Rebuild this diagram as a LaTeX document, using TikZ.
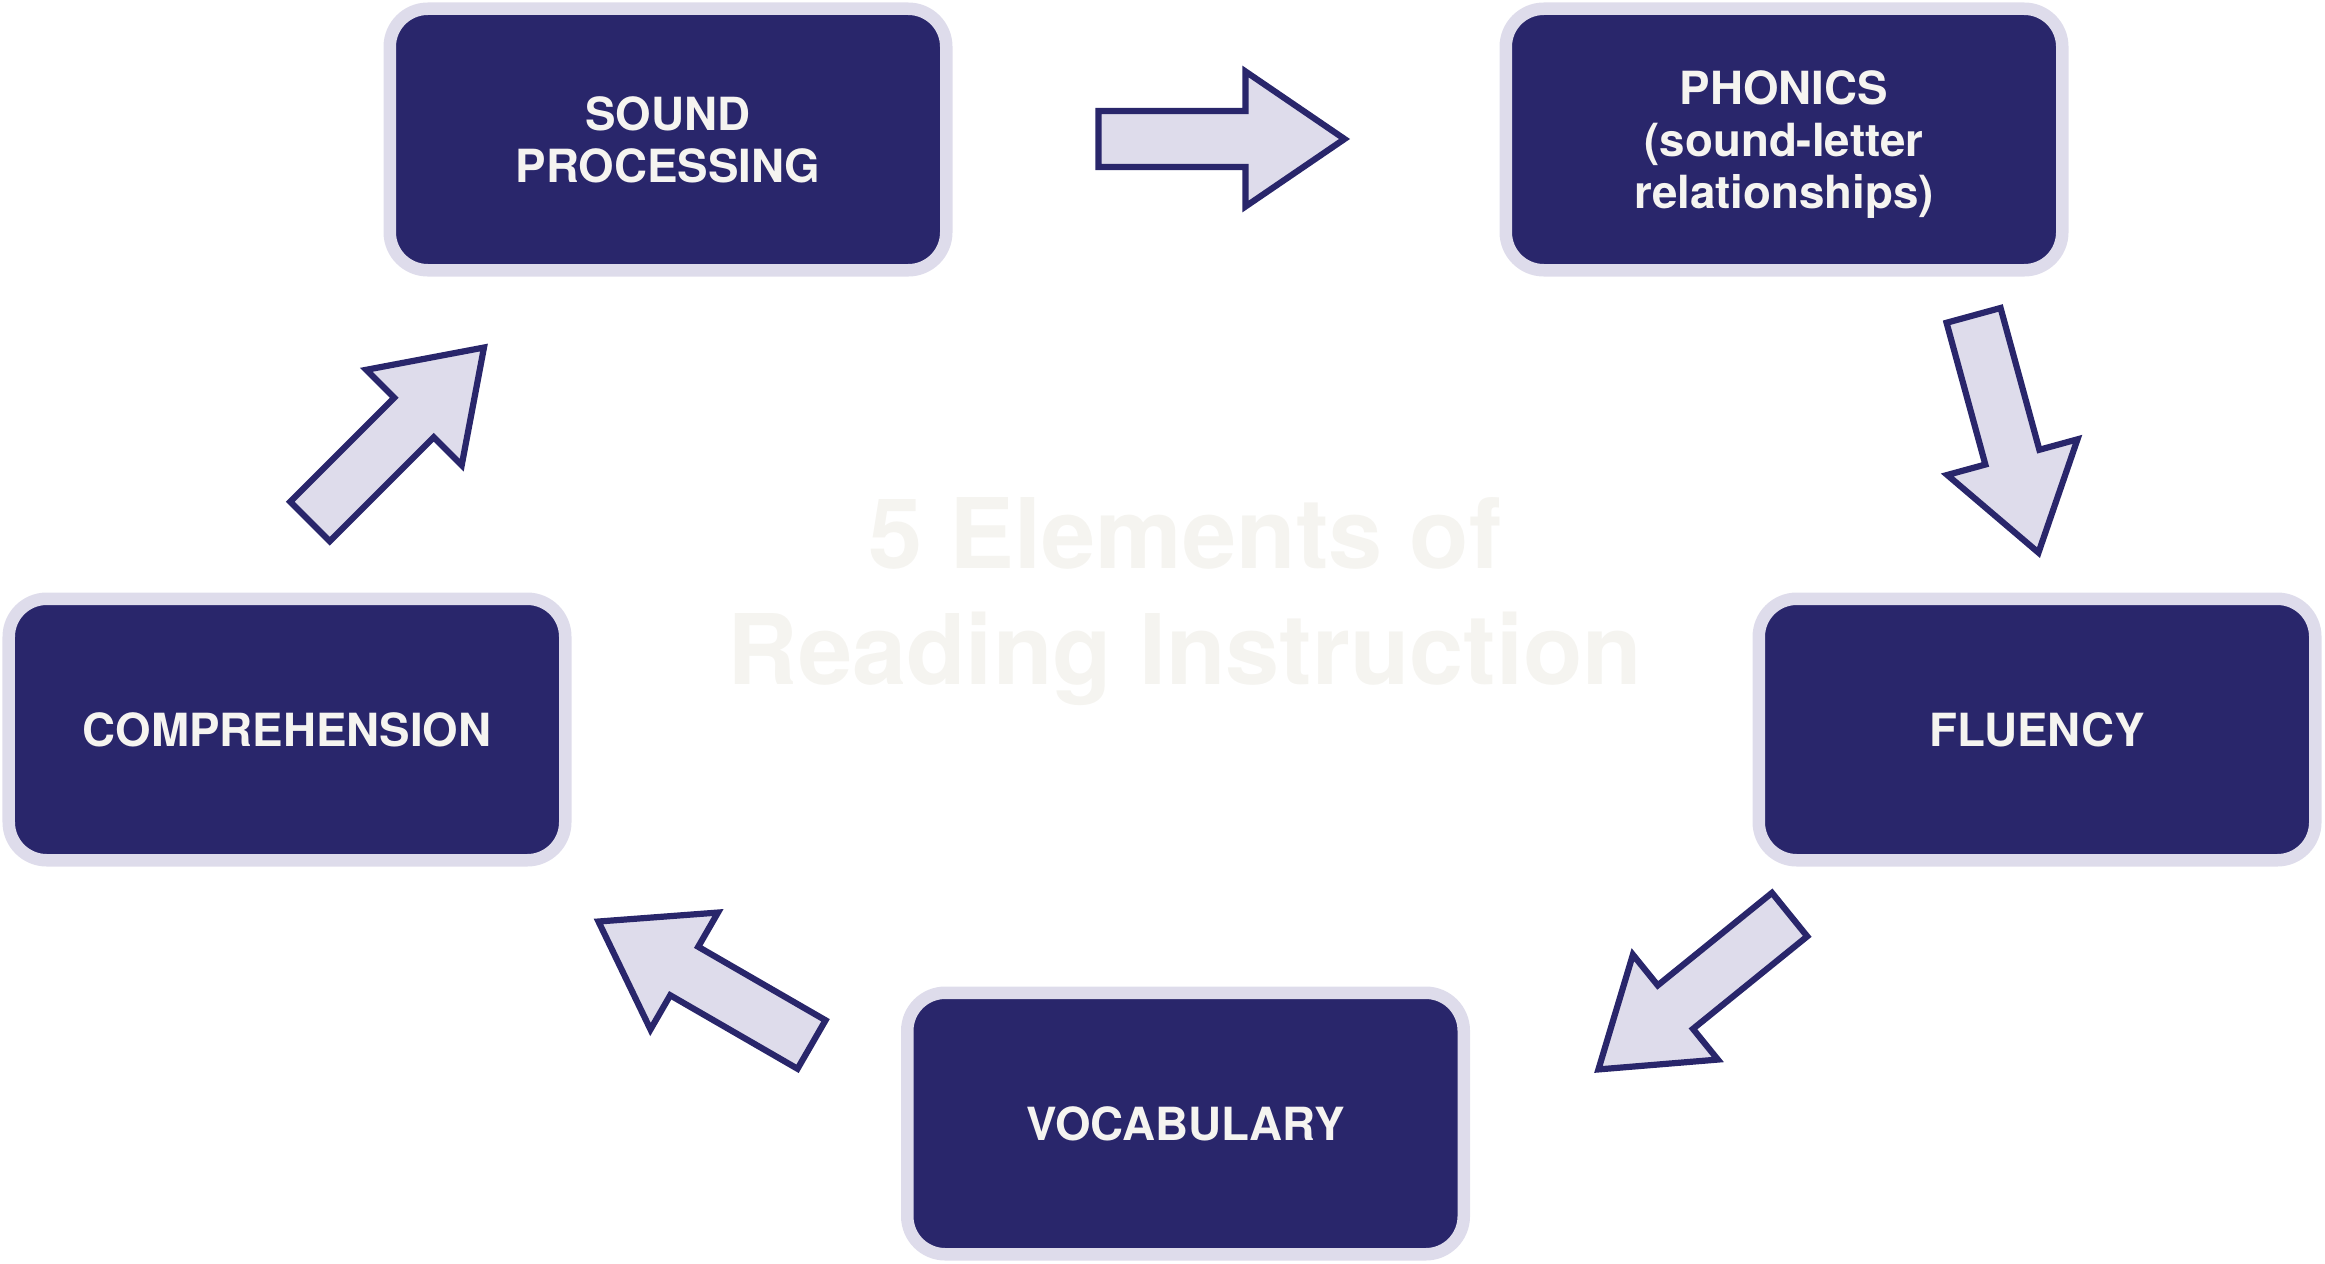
\documentclass[tikz,border=0pt]{standalone}
\usepackage{fontspec}
\setmainfont{TeX Gyre Heros}
\definecolor{navy}{RGB}{41,38,107}
\definecolor{lavender}{RGB}{222,220,235}
\definecolor{offwhite}{RGB}{245,244,240}
\tikzset{
  elembox/.style={rectangle, rounded corners=0.38cm, fill=navy, draw=lavender,
    line width=0.125cm, minimum width=5.565cm, minimum height=2.615cm, inner sep=0pt,
    text=offwhite, align=center, font=\bfseries\fontsize{13}{14.8}\selectfont},
  arrowbody/.style={fill=lavender, draw=navy, line width=0.062cm, line join=miter},
  pics/blockarrow/.style={code={
    \draw[arrowbody] (-1.23,-0.28) -- (0.24,-0.28) -- (0.24,-0.675) -- (1.23,0)
      -- (0.24,0.675) -- (0.24,0.28) -- (-1.23,0.28) -- cycle;}}
}
\begin{document}
\begin{tikzpicture}
\useasboundingbox (0,0) rectangle (23.25,12.63);

\node[text=offwhite, align=center, font=\bfseries\fontsize{27.7}{33}\selectfont]
  (title) at (11.85,6.61) {5 Elements of\\Reading Instruction};

\node[elembox] (sound) at (6.68,11.235) {SOUND\\PROCESSING};
\node[elembox, text depth=0pt] (phonics) at (17.84,11.235) {PHONICS\\(sound-letter\\relationships)};
\node[elembox] (fluency) at (20.37,5.335) {FLUENCY};
\node[elembox] (vocab) at (11.855,1.395) {VOCABULARY};
\node[elembox] (compr) at (2.87,5.335) {COMPREHENSION};

\pic at (12.215,11.24) {blockarrow};
\pic[rotate=-74.7] at (20.06,8.29) {blockarrow};
\pic[rotate=-141] at (16.94,2.71) {blockarrow};
\pic[rotate=150] at (7.05,2.80) {blockarrow};
\pic[rotate=45] at (3.97,8.285) {blockarrow};
\end{tikzpicture}
\end{document}
